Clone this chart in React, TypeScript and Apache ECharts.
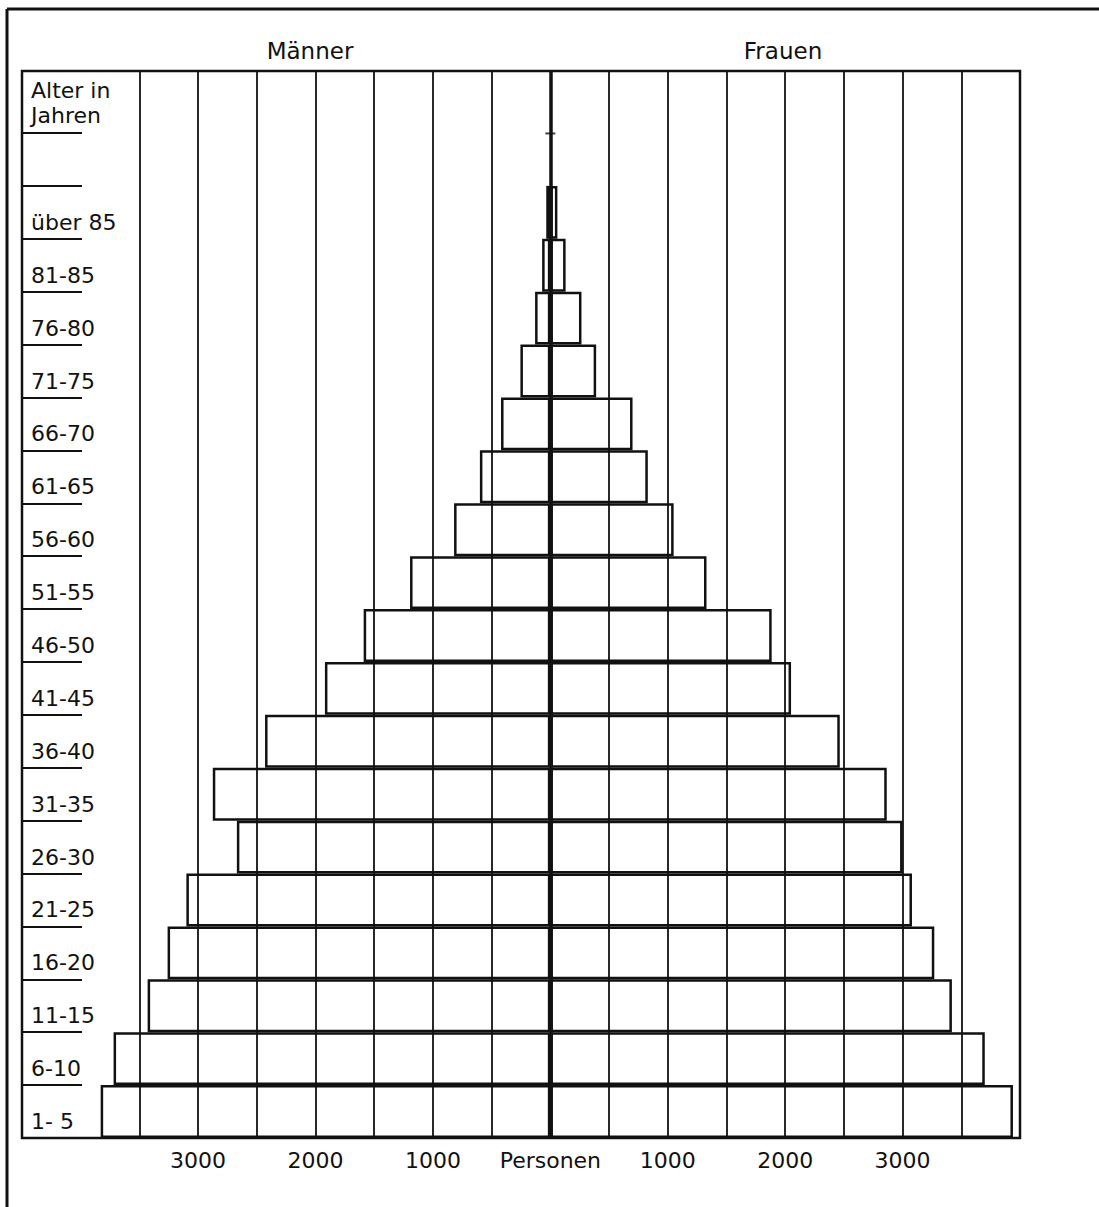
import React, { useEffect, useRef } from "react";
import * as echarts from "echarts";

const FONT = "DejaVu Sans";
const INK = "#111111";

// Age groups, bottom to top (the top row is unlabeled)
const ageGroups = [
  "1- 5", "6-10", "11-15", "16-20", "21-25", "26-30", "31-35", "36-40", "41-45",
  "46-50", "51-55", "56-60", "61-65", "66-70", "71-75", "76-80", "81-85", "über 85", "",
];
// Persons per age group
const men = [3830, 3720, 3430, 3260, 3100, 2670, 2875, 2430, 1920, 1590, 1195, 820, 600, 420, 255, 130, 70, 35, null];
const women = [3940, 3700, 3420, 3270, 3080, 3000, 2865, 2465, 2050, 1885, 1330, 1050, 830, 700, 390, 265, 130, 60, null];
// small tick mark in the unlabeled top row
const topMark = [[0, 18]];

// axis
const axisMin = -4500;
const axisMax = 4000;
const axisStep = 500;
const labeledValues = [-3000, -2000, -1000, 0, 1000, 2000, 3000];
const zeroLabel = "Personen";
const gridLineValues = [-3500, -3000, -2500, -2000, -1500, -1000, -500, 500, 1000, 1500, 2000, 2500, 3000, 3500];

export default function App() {
  const ref = useRef<HTMLDivElement>(null);
  useEffect(() => {
    const chart = echarts.init(ref.current as HTMLDivElement, null, { renderer: "svg" });
    const fmt = (v: number) => {
      if (v === 0) return zeroLabel;
      return labeledValues.indexOf(v) >= 0 ? String(Math.abs(v)) : "";
    };
    chart.setOption({
      animation: false,
      backgroundColor: "#ffffff",
      textStyle: { fontFamily: FONT },
      grid: [
        { left: 22, top: 71, width: 998, height: 1067, show: true, borderColor: INK, borderWidth: 2.5, backgroundColor: "transparent" },
        { left: 22, top: 133, width: 998, height: 1005, show: false },
      ],
      xAxis: [
        {
          gridIndex: 0, type: "value", min: axisMin, max: axisMax, interval: axisStep,
          axisLine: { show: false }, axisTick: { show: false }, splitLine: { show: false },
          axisLabel: { formatter: fmt, fontSize: 22, color: INK, margin: 11, fontFamily: FONT, showMinLabel: true, showMaxLabel: true },
        },
        { gridIndex: 1, type: "value", min: axisMin, max: axisMax, interval: axisStep, show: false },
      ],
      yAxis: [
        { gridIndex: 0, type: "value", min: 0, max: 1, show: false },
        {
          gridIndex: 1, type: "category", data: ageGroups, position: "left",
          axisLine: { show: false, onZero: false },
          axisTick: { show: true, inside: true, length: 60, interval: 0, lineStyle: { color: INK, width: 2 } },
          axisLabel: { inside: true, align: "left", verticalAlign: "top", lineHeight: 20, margin: 9, fontSize: 22, color: INK, fontFamily: FONT, interval: 0 },
          splitLine: { show: false },
        },
      ],
      graphic: [
        { type: "line", shape: { x1: 7, y1: 9, x2: 1099, y2: 9 }, style: { stroke: INK, lineWidth: 3 } },
        { type: "line", shape: { x1: 7, y1: 9, x2: 7, y2: 1207 }, style: { stroke: INK, lineWidth: 3 } },
        { type: "text", x: 310, y: 51, style: { text: "Männer", fontSize: 23, fontFamily: FONT, fill: INK, align: "center", verticalAlign: "middle" } },
        { type: "text", x: 783, y: 51, style: { text: "Frauen", fontSize: 23, fontFamily: FONT, fill: INK, align: "center", verticalAlign: "middle" } },
        { type: "text", x: 31, y: 78, style: { text: "Alter in\nJahren", fontSize: 22, lineHeight: 25, fontFamily: FONT, fill: INK, align: "left", verticalAlign: "top" } },
      ],
      series: [
        {
          type: "scatter", xAxisIndex: 0, yAxisIndex: 0, data: [[0, 0.5]], symbolSize: 0, silent: true,
          markLine: {
            silent: true, symbol: ["none", "none"], label: { show: false },
            lineStyle: { color: INK, width: 1.8, type: "solid" },
            data: [
              ...gridLineValues.map((v) => ({ xAxis: v })),
              { xAxis: 0, lineStyle: { color: INK, width: 3.5, type: "solid" } },
            ],
          },
        },
        {
          name: "Männer", type: "bar", xAxisIndex: 1, yAxisIndex: 1,
          data: men.map((v) => (v == null ? null : -v)),
          barWidth: "100%", barGap: "-100%",
          itemStyle: { color: "rgba(0,0,0,0)", borderColor: INK, borderWidth: 2.5 },
        },
        {
          name: "Frauen", type: "bar", xAxisIndex: 1, yAxisIndex: 1,
          data: women,
          barWidth: "100%", barGap: "-100%",
          itemStyle: { color: "rgba(0,0,0,0)", borderColor: INK, borderWidth: 2.5 },
        },
        {
          type: "scatter", xAxisIndex: 1, yAxisIndex: 1, data: topMark, symbol: "rect",
          symbolSize: [10, 2], symbolOffset: [0, -26], itemStyle: { color: INK }, silent: true,
        },
      ],
    });
    return () => chart.dispose();
  }, []);
  return (
    <div
      ref={ref}
      style={{ position: "fixed", left: 0, top: 0, width: 1099, height: 1207, background: "#fff" }}
    />
  );
}
